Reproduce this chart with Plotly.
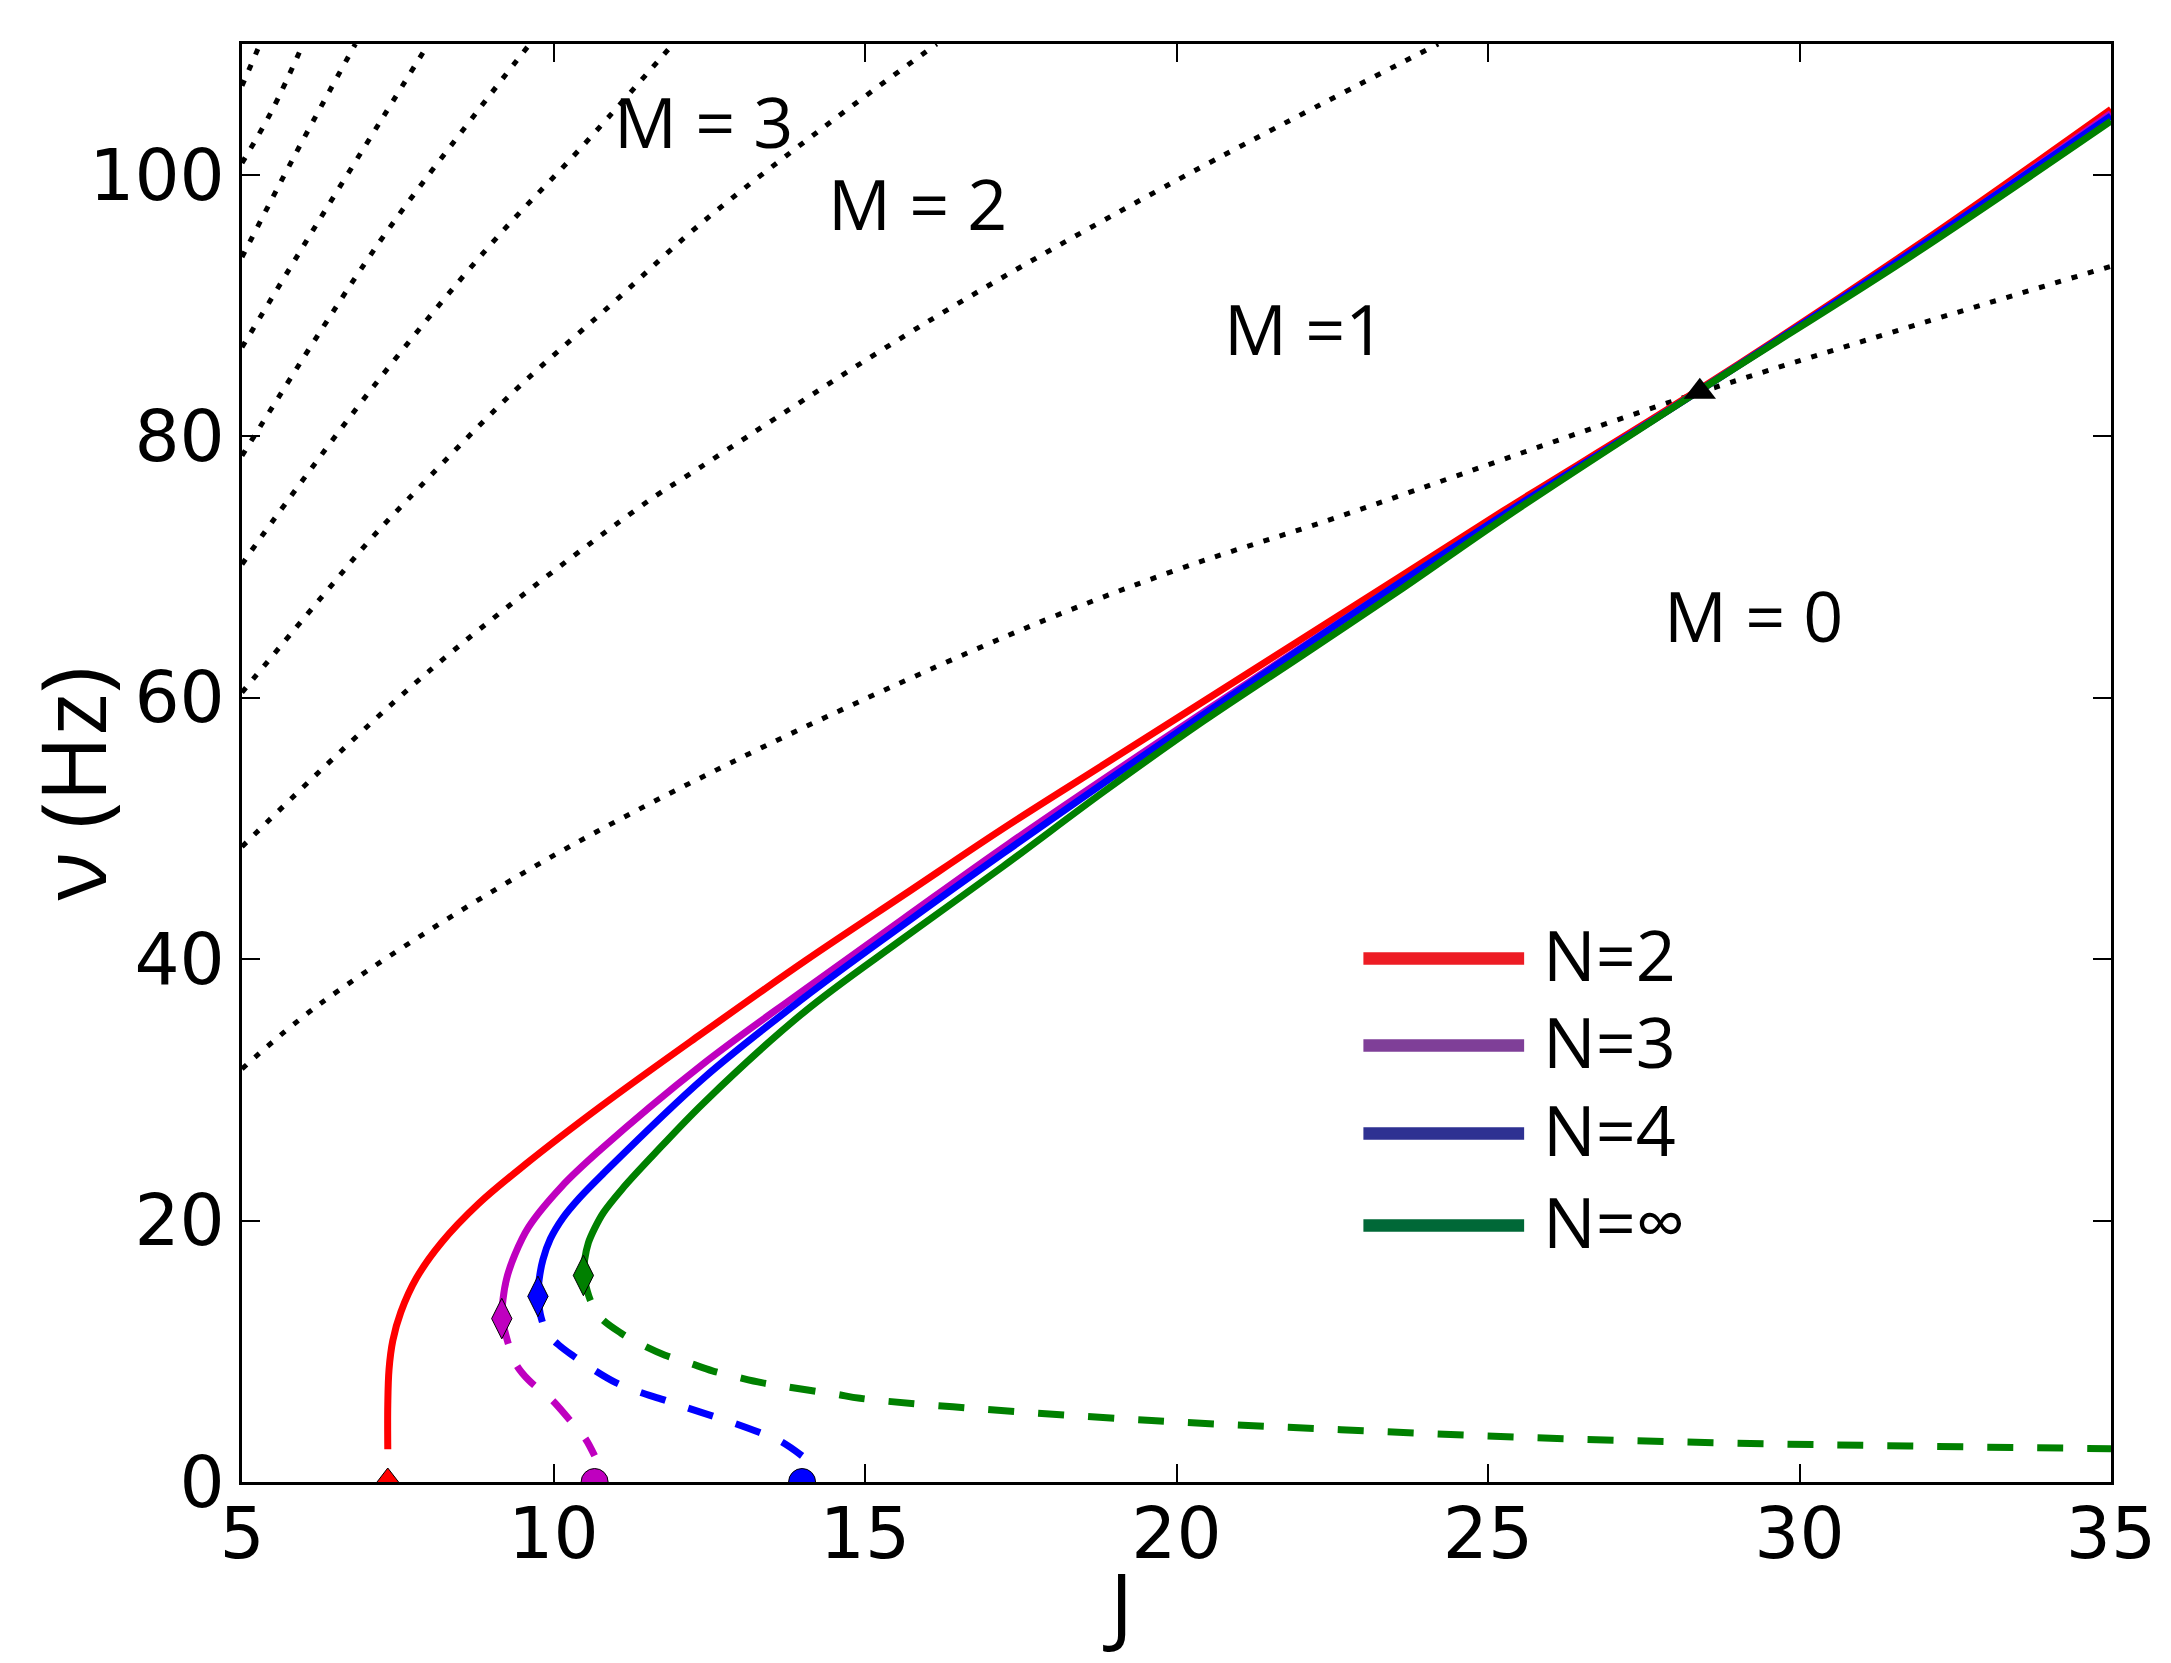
import plotly.graph_objects as go

# dotted M-boundaries (J, nu)
m_curves_J = [
    [5, 6.26, 9.52, 12.84, 17.22, 19.9, 22.58, 28.3, 35],
    [5, 8.02, 11.39, 12.35, 16.09, 19.82, 24.2],
    [5, 6.42, 7.06, 7.67, 9.36, 10.91, 12.35, 14.3, 16.15],
    [5, 5.34, 7.11, 8.98, 10.43, 11.92],
    [5, 7.17, 8.77, 9.62],
    [5, 6.12, 7.25, 7.99],
    [5, 5.86, 6.82],
    [5, 5.48, 5.98],
    [5, 5.29],
]
m_curves_nu = [
    [31.6, 36.6, 46.6, 55.0, 64.6, 69.6, 73.8, 83.2, 93.0],
    [48.6, 62.1, 74.6, 77.6, 89.0, 99.1, 110],
    [60.4, 68.5, 72.1, 75.2, 83.4, 90.0, 96.2, 103.5, 110],
    [70.2, 72.5, 83.8, 94.6, 102.0, 110],
    [78.5, 94.6, 104.8, 110],
    [86.8, 95.6, 104.3, 110],
    [93.7, 101.6, 110],
    [100.9, 104.9, 110],
    [106.8, 110],
]

# stable (solid) branches
n2_J = [7.34, 7.34, 7.36, 7.42, 7.55, 7.80, 8.20, 8.80, 9.55, 10.75, 12.35, 14.05,
        15.62, 17.22, 18.84, 20.43, 21.95, 23.57, 25.25, 28.30, 31.80, 35.00]
n2_nu = [2.5, 5.9, 8.6, 10.8, 13.0, 15.6, 18.3, 21.3, 24.3, 28.7, 34.2, 39.9,
         44.9, 50.0, 54.9, 59.7, 64.3, 69.2, 74.3, 83.3, 94.3, 105.0]

n3_J = [9.17, 9.19, 9.25, 9.38, 9.60, 10.13, 10.75, 12.38, 13.98, 15.62, 17.30,
        20.47, 25.30, 28.30, 31.85, 35.00]
n3_nu = [12.5, 14.0, 15.6, 17.4, 19.5, 22.6, 25.4, 31.9, 37.5, 43.1, 48.8,
         59.0, 74.1, 83.2, 94.2, 104.7]

n4_J = [9.75, 9.77, 9.83, 9.95, 10.15, 10.41, 10.80, 12.41, 14.01, 15.55, 17.22,
        20.43, 25.25, 28.30, 31.80, 35.00]
n4_nu = [14.2, 15.5, 17.0, 18.6, 20.2, 21.7, 23.6, 30.9, 37.0, 42.4, 48.1,
         58.7, 74.0, 83.2, 94.1, 104.5]

ninf_J = [10.48, 10.50, 10.56, 10.66, 10.80, 11.10, 11.60, 12.41, 14.01, 15.62,
          17.22, 18.83, 20.43, 22.04, 23.64, 25.25, 28.30, 31.80, 35.00]
ninf_nu = [15.8, 17.0, 18.3, 19.4, 20.6, 22.4, 25.0, 29.0, 35.9, 41.6,
           47.1, 52.8, 58.2, 63.3, 68.4, 73.7, 83.2, 93.8, 104.1]

# unstable (dashed) branches
n3_low_J = [9.17, 9.28, 9.40, 9.60, 9.97, 10.25, 10.50, 10.66]
n3_low_nu = [12.5, 10.5, 9.0, 7.8, 6.3, 4.8, 3.4, 2.0]

n4_low_J = [9.75, 9.80, 9.90, 10.08, 10.33, 10.64, 11.00, 11.37, 11.76, 12.13,
            12.52, 12.90, 13.30, 13.65, 13.99]
n4_low_nu = [14.2, 12.6, 11.4, 10.5, 9.6, 8.6, 7.6, 6.9, 6.3, 5.7, 5.1, 4.5, 3.8, 3.1, 2.0]

ninf_low_J = [10.48, 10.60, 10.75, 11.08, 11.42, 11.79, 12.18, 12.55, 12.97, 13.34,
              13.73, 14.13, 14.55, 14.92, 16.55, 19.6, 22.64, 25.68, 28.72, 31.76, 35.0]
ninf_low_nu = [15.8, 13.8, 12.6, 11.4, 10.5, 9.7, 9.1, 8.5, 8.0, 7.6,
               7.3, 7.0, 6.7, 6.4, 5.7, 4.7, 4.0, 3.4, 3.0, 2.75, 2.55]

# special points
fold_J = [9.17, 9.75, 10.48]
fold_nu = [12.5, 14.2, 15.8]
end_J = [10.66, 13.99]
end_nu = [0, 0]
onset_J = [7.34]
onset_nu = [0]
cross_J = [28.4]
cross_nu = [83.4]

region_labels = ["M = 3", "M = 2", "M =1", "M = 0"]
region_J = [12.41, 15.85, 22.05, 29.26]
region_nu = [104.1, 97.8, 88.3, 66.3]

legend_names = ["N=2", "N=3", "N=4", "N=∞"]
legend_colors = ["#ED1C24", "#7F3F98", "#2E3192", "#006837"]

RED, MAG, BLUE, GREEN = "#ff0000", "#bf00bf", "#0000ff", "#008000"
LABEL_FONT = "Open Sans"

fig = go.Figure()

for xs, ys in zip(m_curves_J, m_curves_nu):
    fig.add_trace(go.Scatter(x=xs, y=ys, mode="lines", showlegend=False, hoverinfo="skip",
                             line=dict(color="black", width=5, dash="6px,11px", shape="spline")))

for xs, ys, c in [(n3_low_J, n3_low_nu, MAG), (n4_low_J, n4_low_nu, BLUE),
                  (ninf_low_J, ninf_low_nu, GREEN)]:
    fig.add_trace(go.Scatter(x=xs, y=ys, mode="lines", showlegend=False,
                             line=dict(color=c, width=7, dash="26px,24px", shape="spline")))

for xs, ys, c in [(n2_J, n2_nu, RED), (n3_J, n3_nu, MAG), (n4_J, n4_nu, BLUE),
                  (ninf_J, ninf_nu, GREEN)]:
    fig.add_trace(go.Scatter(x=xs, y=ys, mode="lines", showlegend=False,
                             line=dict(color=c, width=7, shape="spline")))

fig.add_trace(go.Scatter(x=fold_J, y=fold_nu, mode="markers", showlegend=False,
                         marker=dict(symbol="diamond-tall", size=29, color=[MAG, BLUE, GREEN],
                                     line=dict(color="black", width=1))))
fig.add_trace(go.Scatter(x=end_J, y=end_nu, mode="markers", showlegend=False,
                         marker=dict(symbol="circle", size=27, color=[MAG, BLUE],
                                     line=dict(color="black", width=1))))
fig.add_trace(go.Scatter(x=onset_J, y=onset_nu, mode="markers", showlegend=False,
                         marker=dict(symbol="triangle-up", size=28, color=RED,
                                     line=dict(color="black", width=1))))
fig.add_trace(go.Scatter(x=cross_J, y=cross_nu, mode="markers", showlegend=False,
                         marker=dict(symbol="triangle-up", size=28, color="black")))

annotations = []
for t, xj, yn in zip(region_labels, region_J, region_nu):
    annotations.append(dict(x=xj, y=yn, text=t, showarrow=False,
                            font=dict(family=LABEL_FONT, size=70, color="black")))

# hand drawn legend like the original
shapes = []
row_y = [0.364, 0.3035, 0.2423, 0.1783]
for name, col, ry in zip(legend_names, legend_colors, row_y):
    shapes.append(dict(type="line", xref="paper", yref="paper", x0=0.600, x1=0.686,
                       y0=ry, y1=ry, line=dict(color=col, width=12.5)))
    annotations.append(dict(xref="paper", yref="paper", x=0.695, y=ry + 0.003, text=name,
                            xanchor="left", yanchor="middle", showarrow=False,
                            font=dict(family=LABEL_FONT, size=70, color="black")))

annotations.append(dict(xref="paper", yref="paper", x=-0.0913, y=0.486, text="ν (Hz)",
                        textangle=-90, xanchor="center", yanchor="middle", showarrow=False,
                        font=dict(family=LABEL_FONT, size=90, color="black")))
annotations.append(dict(xref="paper", yref="paper", x=0.4685, y=-0.084, text="J",
                        xanchor="center", yanchor="middle", showarrow=False,
                        font=dict(family=LABEL_FONT, size=86, color="black")))

axis_style = dict(showline=True, linewidth=3, linecolor="black", mirror="ticks",
                  ticks="inside", ticklen=18, tickwidth=1.5, tickcolor="black",
                  showgrid=False, zeroline=False,
                  tickfont=dict(family="DejaVu Sans", size=71, color="black"))

fig.update_layout(
    width=2163, height=1655,
    margin=dict(l=234, r=60, t=36, b=181),
    paper_bgcolor="white", plot_bgcolor="white",
    xaxis=dict(range=[5, 35], dtick=5, ticklabelstandoff=-12, **axis_style),
    yaxis=dict(range=[0, 110], dtick=20, **axis_style),
    annotations=annotations,
    shapes=shapes,
)

fig.write_html("out.html")
